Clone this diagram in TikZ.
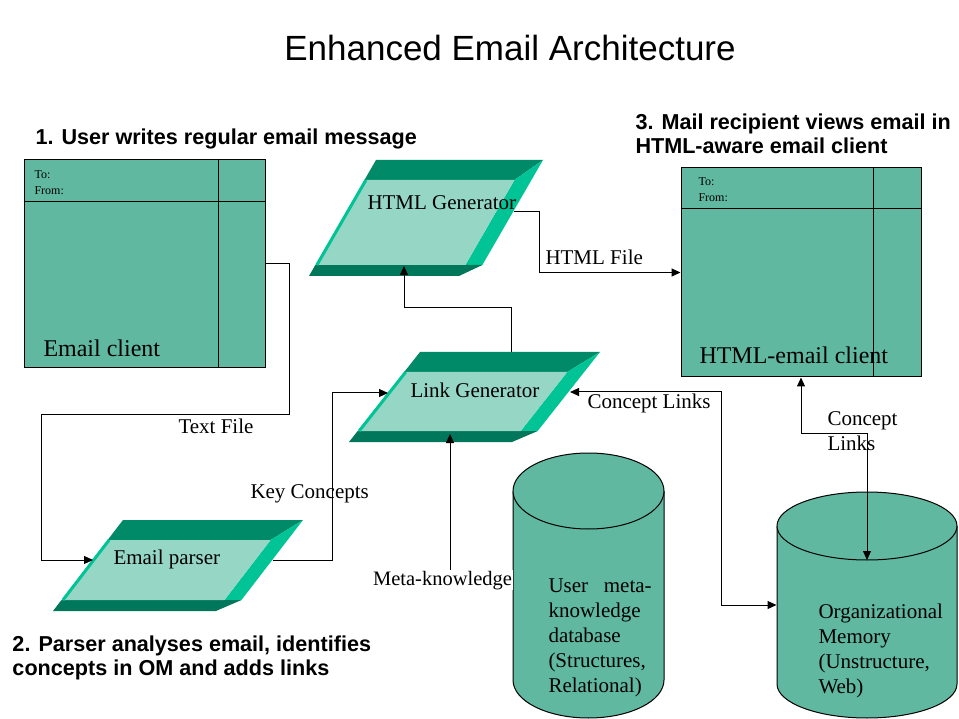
\documentclass[tikz,border=0pt]{standalone}
\usepackage{fontspec}
\setmainfont{Liberation Serif}
\newfontfamily\arialfont{Liberation Sans}
\usepackage{tikz}
\usetikzlibrary{positioning,arrows.meta,calc}

\definecolor{tealbox}{RGB}{96,184,160}
\definecolor{slabface}{RGB}{150,214,196}
\definecolor{slabtop}{RGB}{0,138,104}
\definecolor{slabside}{RGB}{0,196,150}
\definecolor{slabbot}{RGB}{0,118,90}

\newcommand{\fsz}[2]{\fontsize{#1}{#2}\selectfont}

% 3d parallelogram: x0, y0 (outer top left), width, height, slant
\newcommand{\slab}[5]{%
  \pgfmathsetmacro\slabT{#5*20/#4}%
  \pgfmathsetmacro\slabB{#5*(#4-11)/#4}%
  \fill[slabtop] (#1,#2) -- (#1+#3,#2) -- (#1+#3-\slabT-17,#2+20) -- (#1-\slabT,#2+20) -- cycle;
  \fill[slabside] (#1+#3,#2) -- (#1+#3-\slabB,#2+#4-11) -- (#1+#3-\slabB-17,#2+#4-11) -- (#1+#3-\slabT-17,#2+20) -- cycle;
  \fill[slabbot] (#1-\slabB,#2+#4-11) -- (#1+#3-\slabB,#2+#4-11) -- (#1+#3-#5-17,#2+#4) -- (#1-#5,#2+#4) -- cycle;
  \fill[slabface] (#1-\slabT,#2+20) -- (#1+#3-\slabT-17,#2+20) -- (#1+#3-\slabB-17,#2+#4-11) -- (#1-\slabB,#2+#4-11) -- cycle;
  \draw[slabside, line width=3pt] (#1-\slabT+1.5,#2+20) -- (#1-\slabB+1.5,#2+#4-11);
}

% cylinder: name, cx, top cy, bottom cy, rx, ry
\newcommand{\dbcyl}[6]{%
  \fill[tealbox] (#2-#5,#3) -- (#2-#5,#4) arc[start angle=180,end angle=360,x radius=#5pt,y radius=#6pt] -- (#2+#5,#3) -- cycle;
  \draw (#2-#5,#3) -- (#2-#5,#4) arc[start angle=180,end angle=360,x radius=#5pt,y radius=#6pt] -- (#2+#5,#3);
  \filldraw[fill=tealbox] (#2,#3) ellipse[x radius=#5pt,y radius=#6pt];
  \pgfmathsetmacro\cylH{#4-#3+2*#6}%
  \node[inner sep=0pt, minimum width={2*#5pt}, minimum height=\cylH pt] (#1) at (#2,{(#3+#4)/2}) {};
  \coordinate (#1-lid) at (#2,#3+#6);
}

\begin{document}
\begin{tikzpicture}[
  x=1pt, y=-1pt, line width=1pt,
  mbox/.style={draw, fill=tealbox, inner sep=0pt},
  lbl/.style={inner sep=0pt, font=\fsz{21}{25}},
  big/.style={inner sep=0pt, font=\fsz{24}{28}},
  tiny/.style={inner sep=0pt, font=\fsz{12}{16}},
  hdr/.style={inner sep=0pt, font=\arialfont\bfseries\fsz{21.6}{24}, align=left},
  conn/.style={-{Triangle[length=9pt,width=8pt]}},
  conn2/.style={{Triangle[length=9pt,width=8pt]}-{Triangle[length=9pt,width=8pt]}},
]
\useasboundingbox (0,0) rectangle (959,719);

\node[inner sep=0pt, font=\arialfont\fsz{35}{40}, anchor=base] (title) at (510,61) {Enhanced Email Architecture};
\node[hdr, anchor=base west] (step1) at (35,145) {1. User writes regular email message};
\node[hdr, anchor=north west] (step3) at (635,113) {3. Mail recipient views email in\\HTML-aware email client};
\node[hdr, anchor=north west] (step2) at (12,635) {2. Parser analyses email, identifies\\concepts in OM and adds links};

% mail windows
\node[mbox, minimum width=241pt, minimum height=208pt] (mailclient) at (144.5,264) {};
\draw ([yshift=-42pt]mailclient.north west) -- ([yshift=-42pt]mailclient.north east);
\draw ([xshift=-47pt]mailclient.north east) -- ([xshift=-47pt]mailclient.south east);
\node[tiny, anchor=base west] (to1) at (34,179) {To:};
\node[tiny, anchor=base west] (from1) at (34,195) {From:};
\node[big, anchor=base west] (mailname) at (43,357) {Email client};

\node[mbox, minimum width=240pt, minimum height=209pt] (htmlclient) at (801,272.5) {};
\draw ([yshift=-41pt]htmlclient.north west) -- ([yshift=-41pt]htmlclient.north east);
\draw ([xshift=-48pt]htmlclient.north east) -- ([xshift=-48pt]htmlclient.south east);
\node[tiny, anchor=base west] (to3) at (698,186) {To:};
\node[tiny, anchor=base west] (from3) at (698,202) {From:};
\node[big, anchor=base west] (htmlname) at (699,364) {HTML-email client};

% processing steps
\slab{376}{160}{167}{116}{67}
\slab{420}{352}{180}{90}{71}
\slab{123}{520}{180}{91}{70}
\node[lbl, anchor=base west] (htmlgen) at (367,210) {HTML Generator};
\node[lbl, anchor=base west] (linkgen) at (410,397) {Link Generator};
\node[lbl, anchor=base west] (parser) at (113,564) {Email parser};
\coordinate (hg-s) at (404,266);
\coordinate (hg-e) at (514,212);
\coordinate (lg-w) at (388,393);
\coordinate (lg-e) at (570,392);
\coordinate (lg-n) at (511,352);
\coordinate (lg-s) at (450,434);
\coordinate (ep-w) at (93,560);
\coordinate (ep-e) at (273,560);

% databases
\dbcyl{userdb}{588.5}{491}{680}{75.5}{38}
\dbcyl{omdb}{867}{526}{684}{90}{34}
\node[lbl, anchor=north west, align=left] (userdbtxt) at (548,578) {User\hspace{0.5em} meta-\\knowledge\\database\\(Structures,\\Relational)};
\node[lbl, anchor=north west, align=left] (omdbtxt) at (818,603) {Organizational\\Memory\\(Unstructure,\\Web)};

% connectors
\draw[conn] (mailclient.east) -- ++(24,0) |- ++(-248,150) |- (ep-w);
\draw[conn] (ep-e) -- ++(59,0) |- (lg-w);
\draw[conn] (lg-n) -- ++(0,-44) -| (hg-s);
\draw[conn] (hg-e) -- ++(25,0) |- (htmlclient.west);
\draw[conn2] (lg-e) -- ++(151,0) |- (omdb.west);
\draw[conn2] (htmlclient.south) -- ++(0,56) -| (omdb-lid);
\draw[conn] ([yshift=8pt]userdb.west) -| (lg-s);

\node[lbl, anchor=base west] (textfile) at (178,433) {Text File};
\node[lbl, anchor=base west] (keycon) at (250,498) {Key Concepts};
\node[lbl, anchor=base west] (htmlfile) at (545,265) {HTML File};
\node[lbl, anchor=base west] (conlinks) at (587,409) {Concept Links};
\node[lbl, anchor=north west, align=left] (conlinks2) at (827,411) {Concept\\Links};
\node[lbl, font=\fsz{20.5}{24}, anchor=base east, fill=white, inner sep=1pt] (metak) at (513.5,585) {Meta-knowledge};
\end{tikzpicture}
\end{document}
